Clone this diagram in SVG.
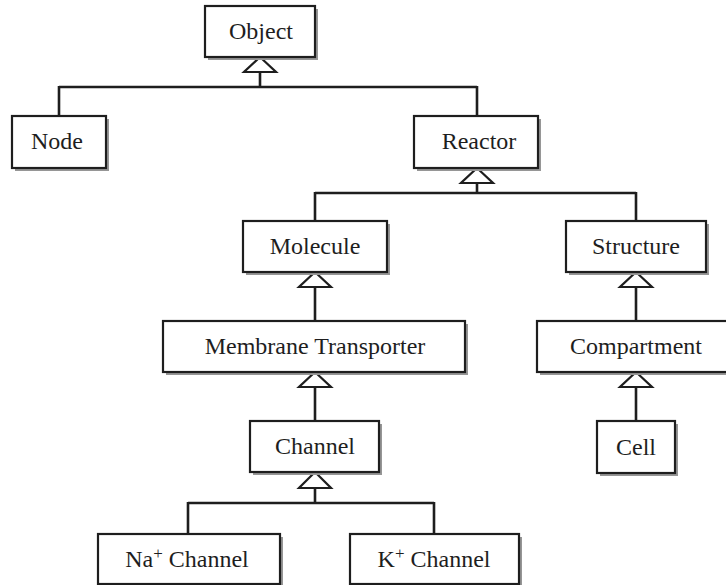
<svg xmlns="http://www.w3.org/2000/svg" width="726" height="585" viewBox="0 0 726 585">
  <style>
    .shadow { fill: #969696; }
    .box { fill: #ffffff; stroke: #1e1e1e; stroke-width: 2.2; }
    .label { font-family: "Liberation Serif", "Times New Roman", serif; font-size: 24px; fill: #1e1e1e; text-anchor: middle; }
    .sup { font-size: 17px; }
    .edge { fill: none; stroke: #1e1e1e; stroke-width: 2.6; }
    .tri { fill: #ffffff; stroke: #1e1e1e; stroke-width: 2.2; stroke-linejoin: miter; }
  </style>
  <defs>
    <filter id="soft" x="-10%" y="-10%" width="120%" height="130%">
      <feGaussianBlur stdDeviation="0.6"/>
    </filter>
  </defs>
  <rect width="726" height="585" fill="#ffffff"/>

  <!-- inheritance connectors with hollow triangle heads -->
  <g id="connectors">
    <!-- Object -> Node, Reactor -->
    <path class="edge" d="M260 72 V87 M59 87 H477 M59 86 V116 M477 86 V116"/>
    <polygon class="tri" points="260,57 276,72 244,72"/>
    <!-- Reactor -> Molecule, Structure -->
    <path class="edge" d="M477 183 V193 M315 193 H636 M315 192 V221 M636 192 V221"/>
    <polygon class="tri" points="477,168 493,183 461,183"/>
    <!-- Molecule -> Membrane Transporter -->
    <path class="edge" d="M315 287 V321"/>
    <polygon class="tri" points="315,272 331,287 299,287"/>
    <!-- Structure -> Compartment -->
    <path class="edge" d="M636 287 V321"/>
    <polygon class="tri" points="636,272 652,287 620,287"/>
    <!-- Membrane Transporter -> Channel -->
    <path class="edge" d="M315 387 V421"/>
    <polygon class="tri" points="315,372 331,387 299,387"/>
    <!-- Compartment -> Cell -->
    <path class="edge" d="M636 387 V421"/>
    <polygon class="tri" points="636,372 652,387 620,387"/>
    <!-- Channel -> Na+ Channel, K+ Channel -->
    <path class="edge" d="M315 488 V503 M188 503 H434 M188 502 V534 M434 502 V534"/>
    <polygon class="tri" points="315,472 331,488 299,488"/>
  </g>

  <g id="object">
    <rect class="shadow" filter="url(#soft)" x="208" y="9" width="110" height="51"/>
    <rect class="box" x="205" y="6" width="110" height="51"/>
    <text class="label" x="261" y="39">Object</text>
  </g>

  <g id="node">
    <rect class="shadow" filter="url(#soft)" x="15" y="119" width="94" height="52"/>
    <rect class="box" x="12" y="116" width="94" height="52"/>
    <text class="label" x="57" y="149">Node</text>
  </g>

  <g id="reactor">
    <rect class="shadow" filter="url(#soft)" x="417" y="119" width="124" height="52"/>
    <rect class="box" x="414" y="116" width="124" height="52"/>
    <text class="label" x="479" y="149">Reactor</text>
  </g>

  <g id="molecule">
    <rect class="shadow" filter="url(#soft)" x="246" y="224" width="144" height="51"/>
    <rect class="box" x="243" y="221" width="144" height="51"/>
    <text class="label" x="315" y="254">Molecule</text>
  </g>

  <g id="structure">
    <rect class="shadow" filter="url(#soft)" x="569" y="224" width="140" height="51"/>
    <rect class="box" x="566" y="221" width="140" height="51"/>
    <text class="label" x="636" y="254">Structure</text>
  </g>

  <g id="membrane-transporter">
    <rect class="shadow" filter="url(#soft)" x="166" y="324" width="302" height="51"/>
    <rect class="box" x="163" y="321" width="302" height="51"/>
    <text class="label" x="315" y="354">Membrane Transporter</text>
  </g>

  <g id="compartment">
    <rect class="shadow" filter="url(#soft)" x="540" y="324" width="200" height="51"/>
    <rect class="box" x="537" y="321" width="200" height="51"/>
    <text class="label" x="636" y="354">Compartment</text>
  </g>

  <g id="channel">
    <rect class="shadow" filter="url(#soft)" x="253" y="424" width="129" height="51"/>
    <rect class="box" x="250" y="421" width="129" height="51"/>
    <text class="label" x="315" y="454">Channel</text>
  </g>

  <g id="cell">
    <rect class="shadow" filter="url(#soft)" x="600" y="424" width="78" height="52"/>
    <rect class="box" x="597" y="421" width="78" height="52"/>
    <text class="label" x="636" y="455">Cell</text>
  </g>

  <g id="na-channel">
    <rect class="shadow" filter="url(#soft)" x="101" y="537" width="182" height="50"/>
    <rect class="box" x="98" y="534" width="182" height="50"/>
    <text class="label" x="187" y="567">Na<tspan class="sup" dy="-8">+</tspan><tspan dy="8"> Channel</tspan></text>
  </g>

  <g id="k-channel">
    <rect class="shadow" filter="url(#soft)" x="353" y="537" width="169" height="50"/>
    <rect class="box" x="350" y="534" width="169" height="50"/>
    <text class="label" x="434" y="567">K<tspan class="sup" dy="-8">+</tspan><tspan dy="8"> Channel</tspan></text>
  </g>
</svg>
